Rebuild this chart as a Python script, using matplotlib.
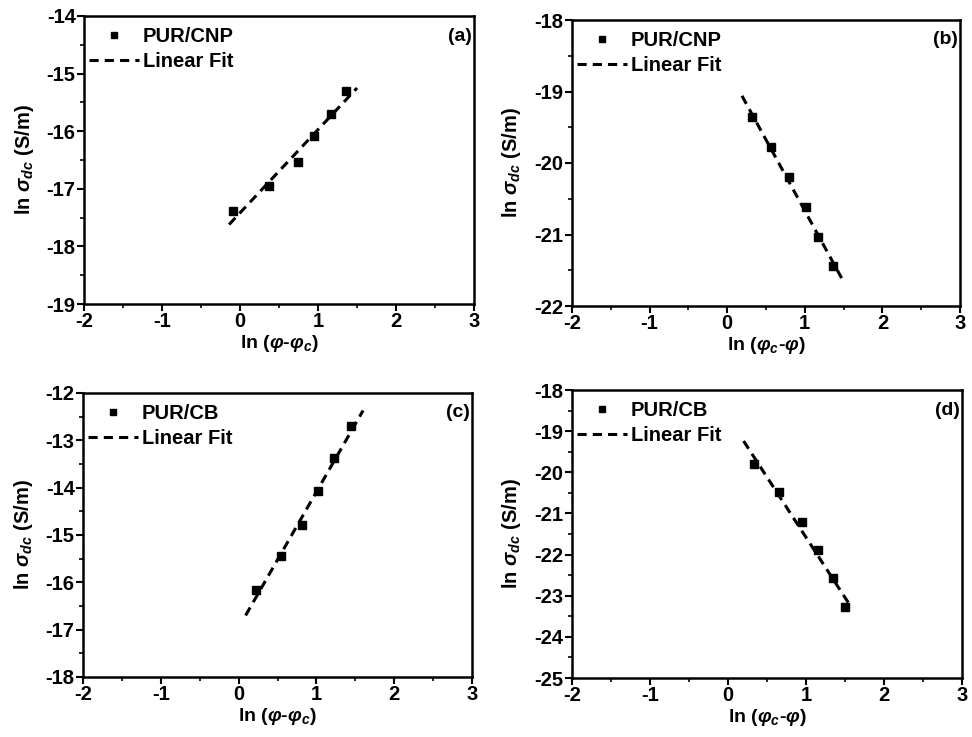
import matplotlib
matplotlib.use("Agg")
import matplotlib.pyplot as plt
from matplotlib.ticker import MultipleLocator

plt.rcParams["font.family"] = ["Liberation Sans", "DejaVu Sans"]
plt.rcParams["font.weight"] = "bold"
plt.rcParams["axes.unicode_minus"] = False
plt.rcParams["mathtext.fontset"] = "custom"
plt.rcParams["mathtext.rm"] = "Liberation Sans:bold"
plt.rcParams["mathtext.it"] = "Liberation Sans:bold:italic"
plt.rcParams["mathtext.bf"] = "Liberation Sans:bold"

# data
a_x = [-0.09, 0.37, 0.74, 0.95, 1.17, 1.36]
a_y = [-17.38, -16.96, -16.54, -16.08, -15.71, -15.30]
a_fit_x = [-0.14, 1.50]
a_fit_y = [-17.62, -15.25]

b_x = [0.32, 0.56, 0.80, 1.01, 1.17, 1.36]
b_y = [-19.36, -19.78, -20.20, -20.61, -21.03, -21.44]
b_fit_x = [0.19, 1.50]
b_fit_y = [-19.06, -21.66]

c_x = [0.22, 0.55, 0.81, 1.02, 1.23, 1.44]
c_y = [-16.17, -15.45, -14.78, -14.07, -13.38, -12.69]
c_fit_x = [0.09, 1.60]
c_fit_y = [-16.70, -12.37]

d_x = [0.33, 0.65, 0.95, 1.16, 1.34, 1.50]
d_y = [-19.80, -20.49, -21.20, -21.89, -22.58, -23.27]
d_fit_x = [0.20, 1.56]
d_fit_y = [-19.24, -23.22]

panels = [
    # x, y, fitx, fity, ylim, name, tag, xlabel
    (a_x, a_y, a_fit_x, a_fit_y, (-19, -14), "PUR/CNP", "(a)", r"ln ($\varphi$-$\varphi_c$)"),
    (b_x, b_y, b_fit_x, b_fit_y, (-22, -18), "PUR/CNP", "(b)", r"ln ($\varphi_c$-$\varphi$)"),
    (c_x, c_y, c_fit_x, c_fit_y, (-18, -12), "PUR/CB", "(c)", r"ln ($\varphi$-$\varphi_c$)"),
    (d_x, d_y, d_fit_x, d_fit_y, (-25, -18), "PUR/CB", "(d)", r"ln ($\varphi_c$-$\varphi$)"),
]

# axes boxes in pixels: left, top, right, bottom
boxes = [(84, 16, 474, 304), (572, 20, 960, 306), (83, 393, 472, 677), (572, 390, 962, 678)]

W, H = 972, 737
fig = plt.figure(figsize=(W / 100, H / 100), dpi=100)

for (x, y, fx, fy, ylim, name, tag, xlab), (l, t, r, b) in zip(panels, boxes):
    ax = fig.add_axes([l / W, 1 - b / H, (r - l) / W, (b - t) / H])
    ax.plot(x, y, "s", color="black", markersize=5.5, label=name)
    ax.plot(fx, fy, "--", color="black", linewidth=2.2, dashes=(3, 2), label="Linear Fit")
    ax.set_xlim(-2, 3)
    ax.set_ylim(*ylim)
    ax.xaxis.set_major_locator(MultipleLocator(1))
    ax.xaxis.set_minor_locator(MultipleLocator(0.5))
    ax.yaxis.set_major_locator(MultipleLocator(1))
    ax.yaxis.set_minor_locator(MultipleLocator(0.5))
    ax.tick_params(which="major", direction="out", length=5, width=1.5, labelsize=14.5, pad=1)
    ax.tick_params(which="minor", direction="out", length=3, width=1.2)
    for s in ax.spines.values():
        s.set_linewidth(1.8)
    ax.set_xlabel(xlab, fontsize=14, fontweight="bold", labelpad=1)
    ax.set_ylabel(r"ln $\sigma_{dc}$ (S/m)", fontsize=14.5, fontweight="bold", labelpad=8)
    ax.text(0.995, 0.96, tag, transform=ax.transAxes, ha="right", va="top",
            fontsize=14, fontweight="bold")
    ax.legend(loc="upper left", bbox_to_anchor=(-0.015, 1.0), frameon=False,
              handlelength=2.45, markerscale=0.85,
              handletextpad=0.2, borderaxespad=0.2, borderpad=0.35, labelspacing=0.3,
              prop={"weight": "bold", "size": 14.5})

fig.savefig("out.png", dpi=100)
